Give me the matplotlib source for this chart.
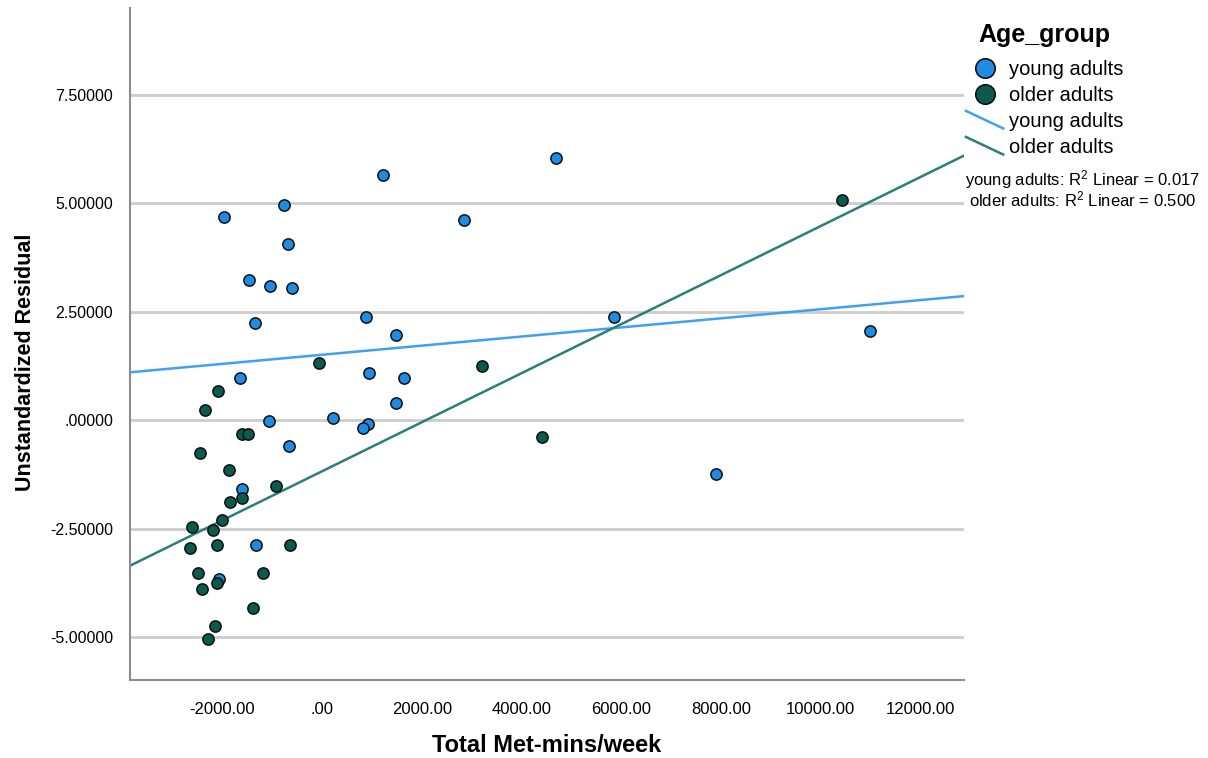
import matplotlib
matplotlib.use('Agg')
import matplotlib.pyplot as plt
import numpy as np
from matplotlib import font_manager
from matplotlib.lines import Line2D
from matplotlib.legend_handler import HandlerBase
from matplotlib.ticker import FuncFormatter

# data
young_x = [-1964, -762, -681, -1463, -1042, -601, -1343, 1216, 2846, 4689, 876, 1483, 948,
           1643, 5852, 10982, 7896, 1483, 226, 916, 828, -1643, -1062, -661, -1603, -1323, -2064]
young_y = [4.68, 4.96, 4.06, 3.23, 3.09, 3.05, 2.24, 5.66, 4.61, 6.04, 2.39, 1.96, 1.10,
           0.97, 2.38, 2.05, -1.23, 0.39, 0.06, -0.08, -0.17, 0.97, -0.02, -0.60, -1.59, -2.88, -3.65]

older_x = [-60, 3206, 4415, 10421, -2084, -2339, -1609, -1477, -2445, -1864, -928, -1609, -1850,
           -2010, -2611, -2178, -2639, -2098, -641, -2491, -1176, -2411, -2098, -1377, -2144, -2279]
older_y = [1.33, 1.25, -0.38, 5.08, 0.68, 0.25, -0.32, -0.32, -0.75, -1.15, -1.50, -1.78, -1.88,
           -2.30, -2.45, -2.52, -2.93, -2.88, -2.88, -3.52, -3.52, -3.88, -3.75, -4.31, -4.73, -5.03]

groups = ['young adults', 'older adults']
fit_intercept = [1.512, -1.172]
fit_slope = [0.000105, 0.000565]
r2 = [0.017, 0.500]

x_ticks = [-2000, 0, 2000, 4000, 6000, 8000, 10000, 12000]
y_ticks = [-5, -2.5, 0, 2.5, 5, 7.5]

point_colors = ['#1f8ce3', '#0b5a4f']
line_colors = ['#3ea1f2', '#2b7f78']

# fonts
names = set(f.name for f in font_manager.fontManager.ttflist)
plt.rcParams['font.family'] = ['Liberation Sans', 'DejaVu Sans']
plt.rcParams['mathtext.fontset'] = 'custom'
plt.rcParams['mathtext.rm'] = 'Liberation Sans'
plt.rcParams['mathtext.it'] = 'Liberation Sans'
narrow = 'Liberation Sans Narrow' in names


class DiagHandler(HandlerBase):
    # legend line drawn slanting down, like SPSS does it
    def create_artists(self, legend, orig_handle, xdescent, ydescent, width, height, fontsize, trans):
        x0 = -xdescent
        y0 = -ydescent
        ln = Line2D([x0, x0 + width], [y0 + height * 1.15, y0 - height * 0.1],
                    color=orig_handle.get_color(), lw=orig_handle.get_linewidth(), transform=trans)
        return [ln]


fig = plt.figure(figsize=(12.08, 7.58), dpi=100)
ax = fig.add_axes([130 / 1208, 1 - 680 / 758, 834 / 1208, 672 / 758])

xlo, xhi = -3850, 12870
ax.set_xlim(xlo, xhi)
ax.set_ylim(-5.98, 9.5)

ax.set_yticks(y_ticks)
ax.set_xticks(x_ticks)
ax.grid(axis='y', color='#cccccc', lw=2)
ax.set_axisbelow(True)

for s in ['top', 'right']:
    ax.spines[s].set_visible(False)
for s in ['left', 'bottom']:
    ax.spines[s].set_color('#8c8c8c')
    ax.spines[s].set_linewidth(1.5)

ax.tick_params(length=0)
ax.tick_params(axis='y', pad=12, labelsize=11.5)
ax.tick_params(axis='x', pad=16, labelsize=12)


def fmt_num(v, dec):
    s = ('%.' + str(dec) + 'f') % v
    if s.startswith('0.'):
        s = s[1:]
    elif s.startswith('-0.'):
        s = '-' + s[2:]
    return s


ax.yaxis.set_major_formatter(FuncFormatter(lambda v, p: fmt_num(v, 5)))
ax.xaxis.set_major_formatter(FuncFormatter(lambda v, p: fmt_num(v, 2)))

# points
ax.scatter(young_x, young_y, s=66, c=point_colors[0], edgecolors='#111111', linewidths=1.1, zorder=3)
ax.scatter(older_x, older_y, s=66, c=point_colors[1], edgecolors='#111111', linewidths=1.1, zorder=3)

# fit lines
xx = np.array([xlo, xhi])
fit_lines = []
for i in range(2):
    ln, = ax.plot(xx, fit_intercept[i] + fit_slope[i] * xx, color=line_colors[i], lw=1.8, zorder=2)
    fit_lines.append(ln)

# axis titles
if narrow:
    ax.set_ylabel('Unstandardized Residual', fontsize=17, fontweight='bold', family=['Liberation Sans Narrow', 'DejaVu Sans'])
else:
    ax.set_ylabel('Unstandardized Residual', fontsize=15.5, fontweight='bold')
ax.yaxis.set_label_coords(-0.125, 0.473)
ax.yaxis.label.set_va('center')
ax.set_xlabel('Total Met-mins/week', fontsize=17, fontweight='bold')
ax.xaxis.set_label_coords(0.5, -0.097)
ax.xaxis.label.set_va('center')

# legend (title put on its own so it can sit a bit to the right, as in SPSS)
fig.text(978 / 1208, 1 - 35 / 758, 'Age_group', fontsize=18, fontweight='bold', ha='left', va='center')
handles = [Line2D([], [], marker='o', ls='', markersize=14, mfc=point_colors[i], mec='#111111', mew=1.2) for i in range(2)]
handles += fit_lines
leg = fig.legend(handles, groups + groups, loc='upper left',
                 bbox_to_anchor=(966 / 1208, 1 - 60 / 758), frameon=False, fontsize=14.5,
                 handlelength=1.85, handletextpad=0.3, labelspacing=0.35, borderpad=0,
                 borderaxespad=0,
                 handler_map={fit_lines[0]: DiagHandler(), fit_lines[1]: DiagHandler()})

for i in range(2):
    fig.text(1083 / 1208, 1 - (180 + 19 * i) / 758, groups[i] + ': R$^2$ Linear = %.3f' % r2[i],
             ha='center', va='center', fontsize=12)

fig.savefig('out.png', dpi=100)
